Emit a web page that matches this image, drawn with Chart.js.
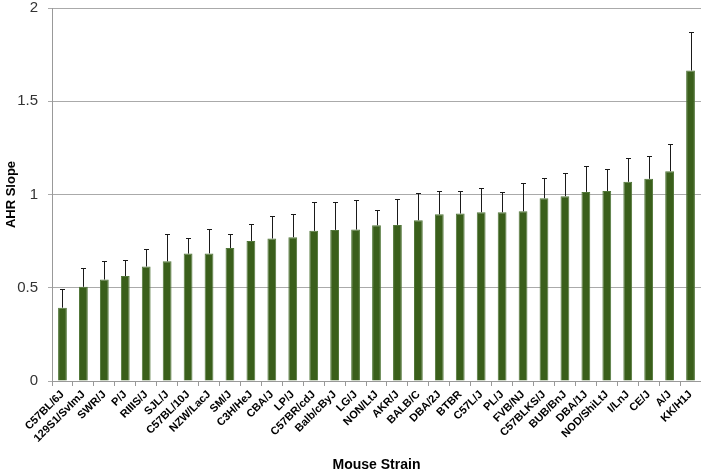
<!DOCTYPE html>
<html>
<head>
<meta charset="utf-8">
<script src="https://cdn.jsdelivr.net/npm/chart.js@4/dist/chart.umd.min.js"></script>
<style>
  html, body { margin: 0; padding: 0; background: #fff; }
  #wrap { width: 701px; height: 475px; }
</style>
</head>
<body>
<div id="wrap"><canvas id="ahrChart"></canvas></div>
<script>
// strains, sorted by slope
const strains = ['C57BL/6J', '129S1/SvImJ', 'SWR/J', 'P/J', 'RIIIS/J', 'SJL/J', 'C57BL/10J', 'NZW/LacJ',
    'SM/J', 'C3H/HeJ', 'CBA/J', 'LP/J', 'C57BR/cdJ', 'Balb/cByJ', 'LG/J', 'NON/LtJ', 'AKR/J', 'BALB/C',
    'DBA/2J', 'BTBR', 'C57L/J', 'PL/J', 'FVB/NJ', 'C57BLKS/J', 'BUB/BnJ', 'DBA/1J', 'NOD/ShiLtJ',
    'I/LnJ', 'CE/J', 'A/J', 'KK/H1J'];

const ahrSlope = [0.393, 0.505, 0.544, 0.563, 0.614, 0.642, 0.683, 0.684, 0.713, 0.751, 0.764, 0.771,
    0.805, 0.810, 0.812, 0.835, 0.837, 0.862, 0.894, 0.898, 0.905, 0.905, 0.910, 0.980, 0.991, 1.014,
    1.019, 1.068, 1.084, 1.125, 1.665];

// upper error (SEM)
const ahrError = [0.099, 0.101, 0.102, 0.086, 0.096, 0.147, 0.086, 0.133, 0.076, 0.093, 0.121, 0.122,
    0.157, 0.152, 0.156, 0.081, 0.141, 0.147, 0.125, 0.120, 0.129, 0.109, 0.152, 0.111, 0.125, 0.141,
    0.120, 0.128, 0.123, 0.146, 0.206];

const yTicks = [0, 0.5, 1, 1.5, 2];

const FONT = "'Liberation Sans', Arial, sans-serif";

// error bars (plus side only), drawn through the y scale
const errorBars = {
    id: 'errorBars',
    afterDatasetsDraw(chart) {
        const ctx = chart.ctx;
        const y = chart.scales.y;
        const meta = chart.getDatasetMeta(0);
        ctx.save();
        ctx.strokeStyle = '#1a1a1a';
        ctx.lineWidth = 1;
        meta.data.forEach((bar, i) => {
            const x = Math.round(bar.x) + 0.5;
            const yTop = Math.round(y.getPixelForValue(ahrSlope[i] + ahrError[i])) + 0.5;
            const yBase = bar.y;
            ctx.beginPath();
            ctx.moveTo(x, yBase);
            ctx.lineTo(x, yTop);
            ctx.moveTo(x - 2.5, yTop);
            ctx.lineTo(x + 2.5, yTop);
            ctx.stroke();
        });
        ctx.restore();
    }
};

new Chart(document.getElementById('ahrChart'), {
    type: 'bar',
    data: {
        labels: strains,
        datasets: [{
            label: 'AHR Slope',
            data: ahrSlope,
            backgroundColor: '#3a5f1b',
            borderColor: '#52773a',
            borderWidth: 1,
            categoryPercentage: 1,
            barPercentage: 0.42
        }]
    },
    options: {
        responsive: true,
        maintainAspectRatio: false,
        animation: false,
        layout: { padding: 0 },
        plugins: {
            legend: { display: false },
            tooltip: { enabled: false }
        },
        scales: {
            x: {
                grid: {
                    offset: true,
                    drawOnChartArea: false,
                    tickLength: 5,
                    color: '#999'
                },
                border: { color: '#999' },
                ticks: {
                    autoSkip: false,
                    maxRotation: 45,
                    minRotation: 45,
                    padding: 2,
                    color: '#000',
                    font: { family: FONT, size: 11, weight: 'bold' }
                },
                title: {
                    display: true,
                    text: 'Mouse Strain',
                    color: '#000',
                    padding: { top: 0, bottom: 1 },
                    font: { family: FONT, size: 14, weight: 'bold' }
                },
                afterFit(scale) {
                    scale.height = 94;
                    scale.paddingLeft = 0;
                    scale.paddingRight = 0;
                }
            },
            y: {
                min: 0,
                max: 2,
                afterBuildTicks(scale) { scale.ticks = yTicks.map(v => ({ value: v })); },
                grid: { color: '#aaa', tickLength: 4 },
                border: { color: '#999' },
                ticks: {
                    padding: 10,
                    color: '#333',
                    font: { family: FONT, size: 15 },
                    callback: v => String(v)
                },
                title: {
                    display: true,
                    text: 'AHR Slope',
                    color: '#000',
                    padding: { top: 4, bottom: 0 },
                    font: { family: FONT, size: 13, weight: 'bold' }
                },
                afterFit(scale) {
                    scale.width = 52;
                    scale.paddingTop = 8;
                    scale.paddingBottom = 0;
                }
            }
        }
    },
    plugins: [errorBars]
});
</script>
</body>
</html>
